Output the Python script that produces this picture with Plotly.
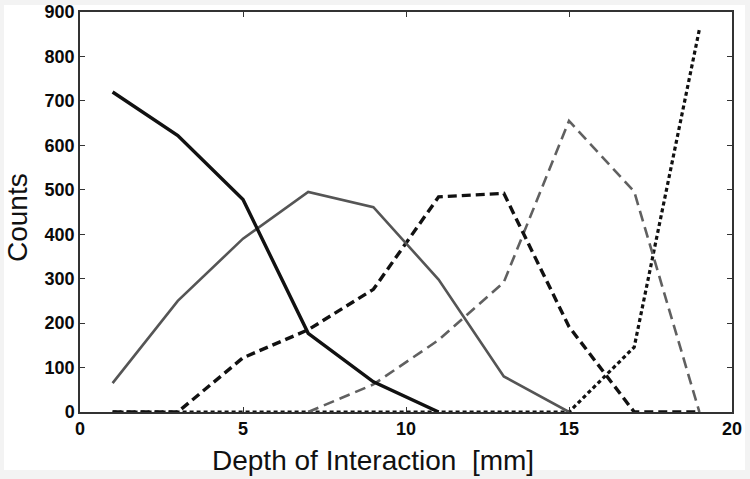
import plotly.graph_objects as go

depth = [1, 3, 5, 7, 9, 11, 13, 15, 17, 19]

solid_black = [720, 622, 478, 177, 68, 0, None, None, None, None]
solid_gray = [65, 250, 390, 495, 461, 298, 80, 0, None, None]
dash_black = [0, 0, 122, 185, 276, 484, 492, 192, 0, 0]
dash_gray = [None, None, None, 0, 62, 162, 292, 655, 496, 0]
dot_black = [0, 0, 0, 0, 0, 0, 0, 0, 146, 861]

x_title = "Depth of Interaction  [mm]"
y_title = "Counts"

fig = go.Figure()

def add(y, color, width, dash):
    fig.add_trace(go.Scatter(x=depth, y=y, mode="lines",
                             line=dict(color=color, width=width, dash=dash),
                             showlegend=False, connectgaps=False))

add(dot_black, "#111111", 3.2, "4px,3px")
add(dash_gray, "#606060", 2.6, "11px,6px")
add(dash_black, "#111111", 3.4, "9px,5px")
add(solid_gray, "#555555", 2.6, "solid")
add(solid_black, "#111111", 3.4, "solid")

L, R, T, B = 80, 18, 12, 67
W, H = 750, 479
pw, ph = W - L - R, H - T - B

def px_x(p):
    return (p - L) / pw

def px_y(p):
    return (H - B - p) / ph

fig.add_shape(type="rect", xref="paper", yref="paper",
              x0=px_x(4), x1=px_x(745), y0=px_y(470), y1=px_y(5),
              fillcolor="white", line=dict(width=0), layer="below")

tickfont = dict(family="Liberation Sans", size=18, color="#0a0a0a", weight="bold")
titlefont = dict(family="Liberation Sans", size=28, color="#111111")

fig.update_xaxes(range=[0, 20], tickvals=[0, 5, 10, 15, 20],
                 ticktext=["0", "5", "10", "15", "20"],
                 ticks="inside", ticklen=5, tickcolor="#333", mirror="allticks",
                 showline=True, linecolor="#333", linewidth=1.5,
                 showgrid=False, zeroline=False, tickfont=tickfont,
                 automargin=False)
fig.update_yaxes(range=[0, 900], tickvals=list(range(0, 901, 100)),
                 ticks="inside", ticklen=5, tickcolor="#333", mirror="allticks",
                 showline=True, linecolor="#333", linewidth=1.5,
                 showgrid=False, zeroline=False, tickfont=tickfont,
                 automargin=False)

fig.add_annotation(text=x_title, xref="paper", yref="paper",
                   x=px_x(373), y=px_y(460), showarrow=False,
                   xanchor="center", yanchor="middle", font=titlefont)
fig.add_annotation(text=y_title, xref="paper", yref="paper",
                   x=px_x(18), y=px_y(217), showarrow=False, textangle=-90,
                   xanchor="center", yanchor="middle", font=titlefont)

fig.update_layout(width=W, height=H, margin=dict(l=L, r=R, t=T, b=B),
                  paper_bgcolor="#f3f3f3", plot_bgcolor="white")

fig.write_html("out.html", config={"displayModeBar": False},
               post_script="document.body.style.margin='0';document.body.style.overflow='hidden';")
